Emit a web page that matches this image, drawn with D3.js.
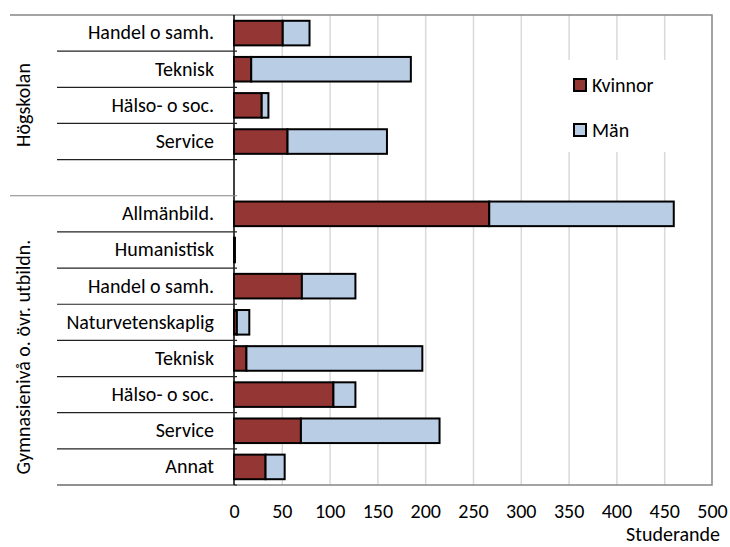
<!DOCTYPE html>
<html>
<head>
<meta charset="utf-8">
<script src="https://cdn.jsdelivr.net/npm/d3@7"></script>
<style>
  body { margin: 0; background: #fff; }
  svg { display: block; font-family: Carlito, Calibri, Lato, sans-serif; }
</style>
</head>
<body>
<svg id="chart" width="730" height="547"></svg>
<script>
// row labels, top to bottom (empty row separates the two groups)
const categories = ["Handel o samh.", "Teknisk", "Hälso- o soc.", "Service", "",
  "Allmänbild.", "Humanistisk", "Handel o samh.", "Naturvetenskaplig", "Teknisk",
  "Hälso- o soc.", "Service", "Annat"];
const groups = ["Högskolan", "Gymnasienivå o. övr. utbildn."];
const groupSizes = [5, 8];
const kvinnor = [51, 18, 29, 56, null, 267, 0, 71, 3, 13, 104, 70, 33];
const man = [28, 167, 7, 104, null, 193, 1, 56, 13, 184, 23, 145, 20];
const seriesNames = ["Kvinnor", "Män"];
const xTicks = [0, 50, 100, 150, 200, 250, 300, 350, 400, 450, 500];
const xTitle = "Studerande";

const colors = ["#943634", "#b9cde5"];
const plotL = 234, plotR = 712, plotT = 15, plotB = 485;
const fs = 20;

const svg = d3.select("#chart");

const x = d3.scaleLinear().domain([0, 500]).range([plotL, plotR]);
const y = d3.scaleBand().domain(d3.range(categories.length)).range([plotT, plotB]);

// gridlines
svg.append("g")
  .attr("transform", `translate(0,${plotB})`)
  .call(d3.axisBottom(x).tickValues(xTicks.slice(1, -1)).tickSize(-(plotB - plotT)).tickFormat(""))
  .call(g => g.select(".domain").remove())
  .call(g => g.selectAll(".tick line").attr("stroke", "#d9d9d9").attr("stroke-width", 1.5));

// plot border (top, right, bottom)
svg.append("path")
  .attr("d", `M${plotL},${plotB}H${plotR}V${plotT}H10`)
  .attr("fill", "none").attr("stroke", "#868686").attr("stroke-width", 1.5);

// stacked bars
const stackData = categories.map((c, i) => ({ i, k: kvinnor[i], m: man[i] }))
  .filter(d => d.k != null);
const bh = y.bandwidth() * 0.68;
const bars = svg.append("g").selectAll("g").data(stackData).join("g");
bars.append("rect")
  .attr("x", x(0))
  .attr("y", d => y(d.i) + (y.bandwidth() - bh) / 2)
  .attr("width", d => x(d.k) - x(0))
  .attr("height", bh)
  .attr("fill", colors[0]).attr("stroke", "#000").attr("stroke-width", 2);
bars.append("rect")
  .attr("x", d => x(d.k))
  .attr("y", d => y(d.i) + (y.bandwidth() - bh) / 2)
  .attr("width", d => x(d.k + d.m) - x(d.k))
  .attr("height", bh)
  .attr("fill", colors[1]).attr("stroke", "#000").attr("stroke-width", 2);

// category axis line
svg.append("line")
  .attr("x1", plotL).attr("x2", plotL).attr("y1", plotT).attr("y2", plotB)
  .attr("stroke", "#000").attr("stroke-width", 1.5);

// row dividers + small ticks
const groupEnds = d3.cumsum(groupSizes);
d3.range(1, categories.length + 1).forEach(i => {
  const yy = i < categories.length ? y(i) : plotB;
  const isGroupEdge = groupEnds.includes(i) && i < categories.length;
  svg.append("line")
    .attr("x1", isGroupEdge ? 10 : 57).attr("x2", plotL + 3)
    .attr("y1", yy).attr("y2", yy)
    .attr("stroke", isGroupEdge ? "#868686" : "#222").attr("stroke-width", 1.2);
});

// category labels
svg.append("g")
  .attr("transform", `translate(${plotL},0)`)
  .call(d3.axisLeft(y).tickSize(0).tickPadding(20).tickFormat(i => categories[i]))
  .call(g => g.select(".domain").remove())
  .call(g => g.selectAll("text").attr("font-size", fs).attr("fill", "#000")
    .attr("font-family", "Carlito, Calibri, Lato, sans-serif"));

// group labels
const groupCenters = [105, 357];
groups.forEach((gname, gi) => {
  svg.append("text")
    .attr("transform", `translate(30,${groupCenters[gi]}) rotate(-90)`)
    .attr("text-anchor", "middle")
    .attr("font-size", fs)
    .text(gname);
});

// x axis labels
svg.append("g")
  .attr("transform", `translate(0,${plotB})`)
  .call(d3.axisBottom(x).tickValues(xTicks).tickSize(0).tickPadding(19))
  .call(g => g.select(".domain").remove())
  .call(g => g.selectAll("text").attr("font-size", fs).attr("fill", "#000")
    .attr("font-family", "Carlito, Calibri, Lato, sans-serif"));

svg.append("text")
  .attr("x", 720).attr("y", 541)
  .attr("text-anchor", "end").attr("font-size", fs)
  .text(xTitle);

// legend
const legend = svg.append("g");
legend.append("rect").attr("x", 566).attr("y", 60).attr("width", 110).attr("height", 92).attr("fill", "#fff");
seriesNames.forEach((s, i) => {
  const ly = 85 + i * 45;
  legend.append("rect")
    .attr("x", 574).attr("y", ly - 6).attr("width", 12).attr("height", 12)
    .attr("fill", colors[i]).attr("stroke", "#000").attr("stroke-width", 2);
  legend.append("text")
    .attr("x", 592).attr("y", ly).attr("dy", "0.35em")
    .attr("font-size", fs).text(s);
});
</script>
</body>
</html>
